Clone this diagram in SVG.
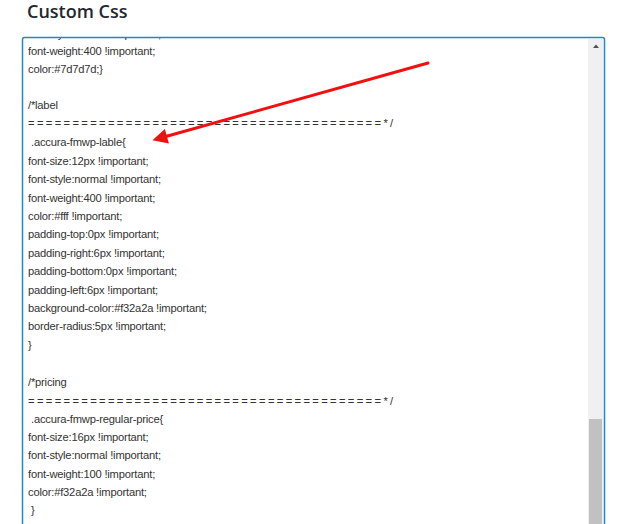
<svg xmlns="http://www.w3.org/2000/svg" width="640" height="524" viewBox="0 0 640 524">
<style>
.t{font-family:"Liberation Sans",Arial,sans-serif;font-size:11.2px;letter-spacing:-0.2px;fill:#333}
</style>
<defs><clipPath id="c"><rect x="23" y="38" width="565" height="486"/></clipPath>
<marker id="ah" viewBox="0 0 10 10" refX="2" refY="5" markerWidth="5.5" markerHeight="5" orient="auto"><path d="M0,0L10,5L0,10z" fill="#f01010"/></marker></defs>
<rect width="640" height="524" fill="#fff"/>
<text x="27" y="18" font-family="'Open Sans',sans-serif" font-size="18" font-weight="600" fill="#23282d">Custom Css</text>
<g id="box">
<rect x="22.5" y="37.5" width="582" height="500" rx="2" fill="#fff" stroke="#1e88c8" stroke-width="1.5"/>
<rect x="588" y="39" width="15" height="485" fill="#f0f0f0"/>
<rect x="589" y="419" width="13" height="105" fill="#c1c1c1"/>
<path d="M593,48L596,44.5L599,48z" fill="#505050"/>
</g>
<g id="code" class="t" clip-path="url(#c)">
<text x="28" y="38">font-style:normal !important;</text>
<text x="28" y="55">font-weight:400 !important;</text>
<text x="28" y="73">color:#7d7d7d;}</text>
<text x="28" y="109">/*label</text>
<text x="28" y="127" textLength="365" lengthAdjust="spacing">========================================*/</text>
<text x="31" y="146">.accura-fmwp-lable{</text>
<text x="28" y="165">font-size:12px !important;</text>
<text x="28" y="183">font-style:normal !important;</text>
<text x="28" y="202">font-weight:400 !important;</text>
<text x="28" y="220">color:#fff !important;</text>
<text x="28" y="238">padding-top:0px !important;</text>
<text x="28" y="257">padding-right:6px !important;</text>
<text x="28" y="275">padding-bottom:0px !important;</text>
<text x="28" y="294">padding-left:6px !important;</text>
<text x="28" y="312">background-color:#f32a2a !important;</text>
<text x="28" y="330">border-radius:5px !important;</text>
<text x="28" y="349">}</text>
<text x="28" y="386">/*pricing</text>
<text x="28" y="405" textLength="365" lengthAdjust="spacing">========================================*/</text>
<text x="31" y="423">.accura-fmwp-regular-price{</text>
<text x="28" y="441">font-size:16px !important;</text>
<text x="28" y="459">font-style:normal !important;</text>
<text x="28" y="478">font-weight:100 !important;</text>
<text x="28" y="496">color:#f32a2a !important;</text>
<text x="31" y="514">}</text>
</g>
<g id="connectors">
<line x1="428" y1="63" x2="164" y2="137" stroke="#f01010" stroke-width="3" stroke-linecap="round" marker-end="url(#ah)"/>
</g>
</svg>
